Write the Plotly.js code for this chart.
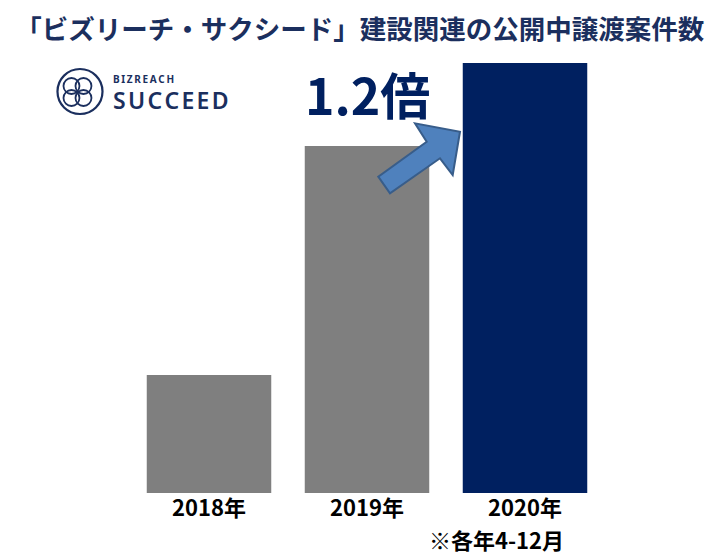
<!DOCTYPE html>
<html>
<head>
<meta charset="utf-8">
<script src="https://cdn.plot.ly/plotly-3.0.1.min.js"></script>
<style>html,body{margin:0;padding:0;background:#fff;}#chart{width:724px;height:557px;}</style>
</head>
<body>
<div id="chart"></div>
<script>
const categories = ["2018年", "2019年", "2020年"];
const values = [118, 347, 430];
const barColors = ["#7f7f7f", "#7f7f7f", "#002060"];
const titleText = "「ビズリーチ・サクシード」建設関連の公開中譲渡案件数";
const ratioText = "1.2倍";
const noteText = "※各年4-12月";

const navy = "#1b2f5e";
const cjk = "'Noto Sans CJK JP', 'Noto Sans', sans-serif";
const spaced = (s, sp) => s.split("").join(sp);

const data = [{
  type: "bar",
  x: categories,
  y: values,
  marker: {color: barColors, line: {width: 0}},
  hoverinfo: "none"
}];

const layout = {
  width: 724, height: 557,
  margin: {l: 130, r: 120, t: 63, b: 64, pad: 0},
  paper_bgcolor: "#fff", plot_bgcolor: "#fff",
  bargap: 0.212,
  showlegend: false,
  title: {
    text: titleText,
    x: 0.497, xanchor: "center",
    y: 0.946, yanchor: "middle",
    font: {family: cjk, size: 26.5, color: navy, weight: 700}
  },
  xaxis: {
    type: "category",
    showgrid: false, zeroline: false, showline: false,
    ticks: "",
    tickfont: {family: cjk, size: 22, color: "#000", weight: 700},
    fixedrange: true
  },
  yaxis: {visible: false, range: [0, 430], fixedrange: true},
  shapes: [
    {type: "path", xref: "paper", yref: "paper",
     path: "M0.5238,0.7356 L0.5485,0.6970 L0.6540,0.7784 L0.6808,0.7395 L0.6962,0.8402 L0.6013,0.8598 L0.6259,0.8170 Z",
     fillcolor: "#4f81bd", line: {color: "#385d8a", width: 2}},
    {type: "circle", xref: "paper", yref: "paper",
     x0: -0.1530, x1: -0.0580, y0: 0.8814, y1: 0.9860,
     line: {color: navy, width: 2.2}},
    {type: "circle", xref: "paper", yref: "paper",
     x0: -0.1403, x1: -0.1066, y0: 0.9279, y1: 0.9651,
     line: {color: navy, width: 1.8}},
    {type: "circle", xref: "paper", yref: "paper",
     x0: -0.1150, x1: -0.0813, y0: 0.9279, y1: 0.9651,
     line: {color: navy, width: 1.8}},
    {type: "circle", xref: "paper", yref: "paper",
     x0: -0.1403, x1: -0.1066, y0: 0.9000, y1: 0.9372,
     line: {color: navy, width: 1.8}},
    {type: "circle", xref: "paper", yref: "paper",
     x0: -0.1150, x1: -0.0813, y0: 0.9000, y1: 0.9372,
     line: {color: navy, width: 1.8}}
  ],
  annotations: [
    {text: ratioText, xref: "paper", yref: "paper", x: 0.5, y: 0.931,
     xanchor: "center", yanchor: "middle", showarrow: false,
     font: {family: cjk, size: 50, color: "#002060", weight: 700}},
    {text: noteText, xref: "paper", yref: "paper", x: 0.7722, y: -0.1070,
     xanchor: "center", yanchor: "middle", showarrow: false, borderpad: 0,
     font: {family: cjk, size: 22, color: "#000", weight: 700}},
    {text: spaced("BIZREACH", "\u2009"), xref: "paper", yref: "paper", x: -0.0401, y: 0.9650,
     xanchor: "left", yanchor: "middle", showarrow: false, height: 9,
     font: {family: "'Noto Sans', sans-serif", size: 10, color: navy, weight: 700}},
    {text: spaced("SUCCEED", "\u200A"), xref: "paper", yref: "paper", x: -0.0401, y: 0.9150,
     xanchor: "left", yanchor: "middle", showarrow: false, height: 18,
     font: {family: "'Noto Sans', sans-serif", size: 23, color: navy, weight: 600}}
  ]
};

Plotly.newPlot("chart", data, layout, {displayModeBar: false, staticPlot: true});
</script>
</body>
</html>
